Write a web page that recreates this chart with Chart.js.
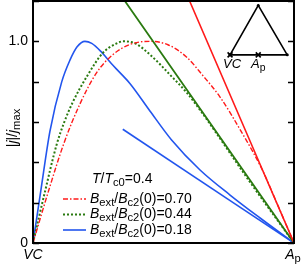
<!DOCTYPE html>
<html>
<head>
<meta charset="utf-8">
<script src="https://cdn.jsdelivr.net/npm/chart.js@4"></script>
<style>
  html,body{margin:0;padding:0;background:#fff;}
  #c{display:block;}
</style>
</head>
<body>
<canvas id="c" width="304" height="268"></canvas>
<script>
// ---------- data ----------
const redCurveX   = [0,0.06,0.12,0.18,0.244,0.307,0.372,0.448,0.517,0.586,0.651,0.716,0.808,0.877,0.939,1];
const redCurveY   = [0,0.26,0.50,0.69,0.845,0.935,0.985,1.0,0.983,0.925,0.83,0.725,0.53,0.367,0.184,0];
const greenCurveX = [0,0.045,0.091,0.12,0.153,0.206,0.268,0.321,0.345,0.391,0.456,0.525,0.590,0.651,0.697,0.831,1];
const greenCurveY = [0,0.25,0.49,0.60,0.70,0.825,0.943,0.99,1.0,0.99,0.925,0.834,0.744,0.64,0.555,0.303,0];
const blueCurveX  = [0,0.03,0.065,0.110,0.142,0.169,0.199,0.225,0.26,0.30,0.333,0.372,0.448,0.531,0.640,0.755,0.870,1];
const blueCurveY  = [0,0.26,0.555,0.799,0.908,0.973,1.0,0.99,0.95,0.89,0.845,0.79,0.655,0.511,0.362,0.238,0.124,0];

const redLineX   = [0.6,1],   redLineY   = [1.2,0];
const greenLineX = [0.352,1], greenLineY = [1.2,0];
const blueLineX  = [0.344,1], blueLineY  = [0.564,0];

// inset triangle (VC - A_p - top), in data units
const triX = [0.755,0.863,0.974,0.755];
const triY = [0.933,1.178,0.933,0.933];
const crossX = [0.755,0.863], crossY = [0.933,0.933];

const yTicks = [0,0.2,0.4,0.6,0.8,1.0,1.2];
const yLabels = {0:"0",1:"1.0"};

const RED="#ff1a1a", GREEN="#2a7a10", BLUE="#2255ee";
const FONT='"Liberation Sans", Arial, sans-serif';

const legendRows = [
  {color:RED,   dash:[5,2,1.5,2], width:1.4, value:"0.70"},
  {color:GREEN, dash:[2,2],       width:2,   value:"0.44"},
  {color:BLUE,  dash:[],          width:1.6, value:"0.18"}
];

const pts=(xs,ys)=>xs.map((x,i)=>({x,y:ys[i]}));

// ---------- helpers ----------
function rich(ctx,parts,x,y,size){
  // parts: [text, italic, sub]
  let cx=x;
  parts.forEach(([t,it,sub])=>{
    const s = sub? size*0.8 : size;
    ctx.font=(it?"italic ":"")+s+"px "+FONT;
    ctx.fillText(t,cx,y+(sub?3.5:0));
    cx+=ctx.measureText(t).width;
  });
  return cx-x;
}
function richWidth(ctx,parts,size){
  let w=0;
  parts.forEach(([t,it,sub])=>{
    ctx.font=(it?"italic ":"")+(sub?size*0.8:size)+"px "+FONT;
    w+=ctx.measureText(t).width;
  });
  return w;
}

const deco = {
  id:"deco",
  afterDraw(chart){
    const {ctx,chartArea:a,scales:{x,y}} = chart;
    ctx.save();
    // frame
    ctx.strokeStyle="#000"; ctx.lineWidth=2;
    ctx.strokeRect(a.left,a.top,a.right-a.left,a.bottom-a.top);
    // inward ticks, both sides
    ctx.lineWidth=1.3;
    yTicks.forEach(v=>{
      const py=Math.round(y.getPixelForValue(v))+0.5;
      ctx.beginPath();
      ctx.moveTo(a.left,py);ctx.lineTo(a.left+6,py);
      ctx.moveTo(a.right,py);ctx.lineTo(a.right-6,py);
      ctx.stroke();
    });
    // y tick labels
    ctx.fillStyle="#000"; ctx.textBaseline="middle"; ctx.textAlign="right";
    ctx.font="14px "+FONT;
    Object.keys(yLabels).forEach(k=>{
      ctx.fillText(yLabels[k],a.left-5,y.getPixelForValue(+k));
    });
    // x end labels
    ctx.textAlign="left";
    ctx.font="italic 14px "+FONT;
    const vcw=ctx.measureText("VC").width;
    ctx.fillText("VC",x.getPixelForValue(0)-vcw/2,a.bottom+12);
    const apParts=[["A",true,false],["p",false,true]];
    rich(ctx,apParts,x.getPixelForValue(1)-richWidth(ctx,apParts,14)/2-1,a.bottom+12,14);
    // inset labels
    ctx.font="italic 13px "+FONT;
    const iw=ctx.measureText("VC").width;
    ctx.fillText("VC",x.getPixelForValue(triX[0])+2-iw/2,y.getPixelForValue(triY[0])+10);
    rich(ctx,apParts,x.getPixelForValue(crossX[1])-richWidth(ctx,apParts,13)/2,y.getPixelForValue(crossY[1])+10,13);
    // y axis title
    ctx.save();
    ctx.translate(13,128); ctx.rotate(-Math.PI/2);
    const yt=[["|",false,false],["j",true,false],["|/",false,false],["j",true,false],["max",false,true]];
    rich(ctx,yt,-richWidth(ctx,yt,14)/2,0,14);
    ctx.restore();
    // legend block
    rich(ctx,[["T",true,false],["/",false,false],["T",true,false],["c0",false,true],["=0.4",false,false]],92,179,14);
    legendRows.forEach((r,i)=>{
      const ly=199+i*15.5;
      ctx.strokeStyle=r.color; ctx.lineWidth=r.width; ctx.setLineDash(r.dash);
      ctx.beginPath(); ctx.moveTo(63,ly); ctx.lineTo(86,ly); ctx.stroke();
      ctx.setLineDash([]);
      ctx.fillStyle="#000";
      rich(ctx,[["B",true,false],["ext",false,true],["/",false,false],["B",true,false],["c2",false,true],["(0)="+r.value,false,false]],90,ly,14);
    });
    ctx.restore();
  }
};

const curve=(data,color,dash,width)=>({data,borderColor:color,borderDash:dash,borderWidth:width,
  showLine:true,pointRadius:0,fill:false,cubicInterpolationMode:"monotone"});

new Chart(document.getElementById("c"),{
  type:"scatter",
  data:{datasets:[
    curve(pts(redLineX,redLineY),RED,[],1.6),
    curve(pts(greenLineX,greenLineY),GREEN,[],1.8),
    curve(pts(blueLineX,blueLineY),BLUE,[],1.6),
    curve(pts(redCurveX,redCurveY),RED,[5,2,1.5,2],1.4),
    curve(pts(greenCurveX,greenCurveY),GREEN,[2,2],2),
    curve(pts(blueCurveX,blueCurveY),BLUE,[],1.6),
    {data:pts(triX,triY),borderColor:"#000",borderWidth:1.6,showLine:true,pointRadius:1.5,
     pointBackgroundColor:"#000",pointBorderWidth:0,tension:0},
    {data:pts(crossX,crossY),pointStyle:"crossRot",pointRadius:3.5,borderColor:"#000",borderWidth:1.6,showLine:false}
  ]},
  options:{
    responsive:false,animation:false,
    layout:{autoPadding:false,padding:{left:33,right:10,top:1,bottom:25}},
    plugins:{legend:{display:false},tooltip:{enabled:false}},
    scales:{
      x:{type:"linear",min:0,max:1,display:false},
      y:{type:"linear",min:0,max:1.2,display:false}
    }
  },
  plugins:[deco]
});
</script>
</body>
</html>
